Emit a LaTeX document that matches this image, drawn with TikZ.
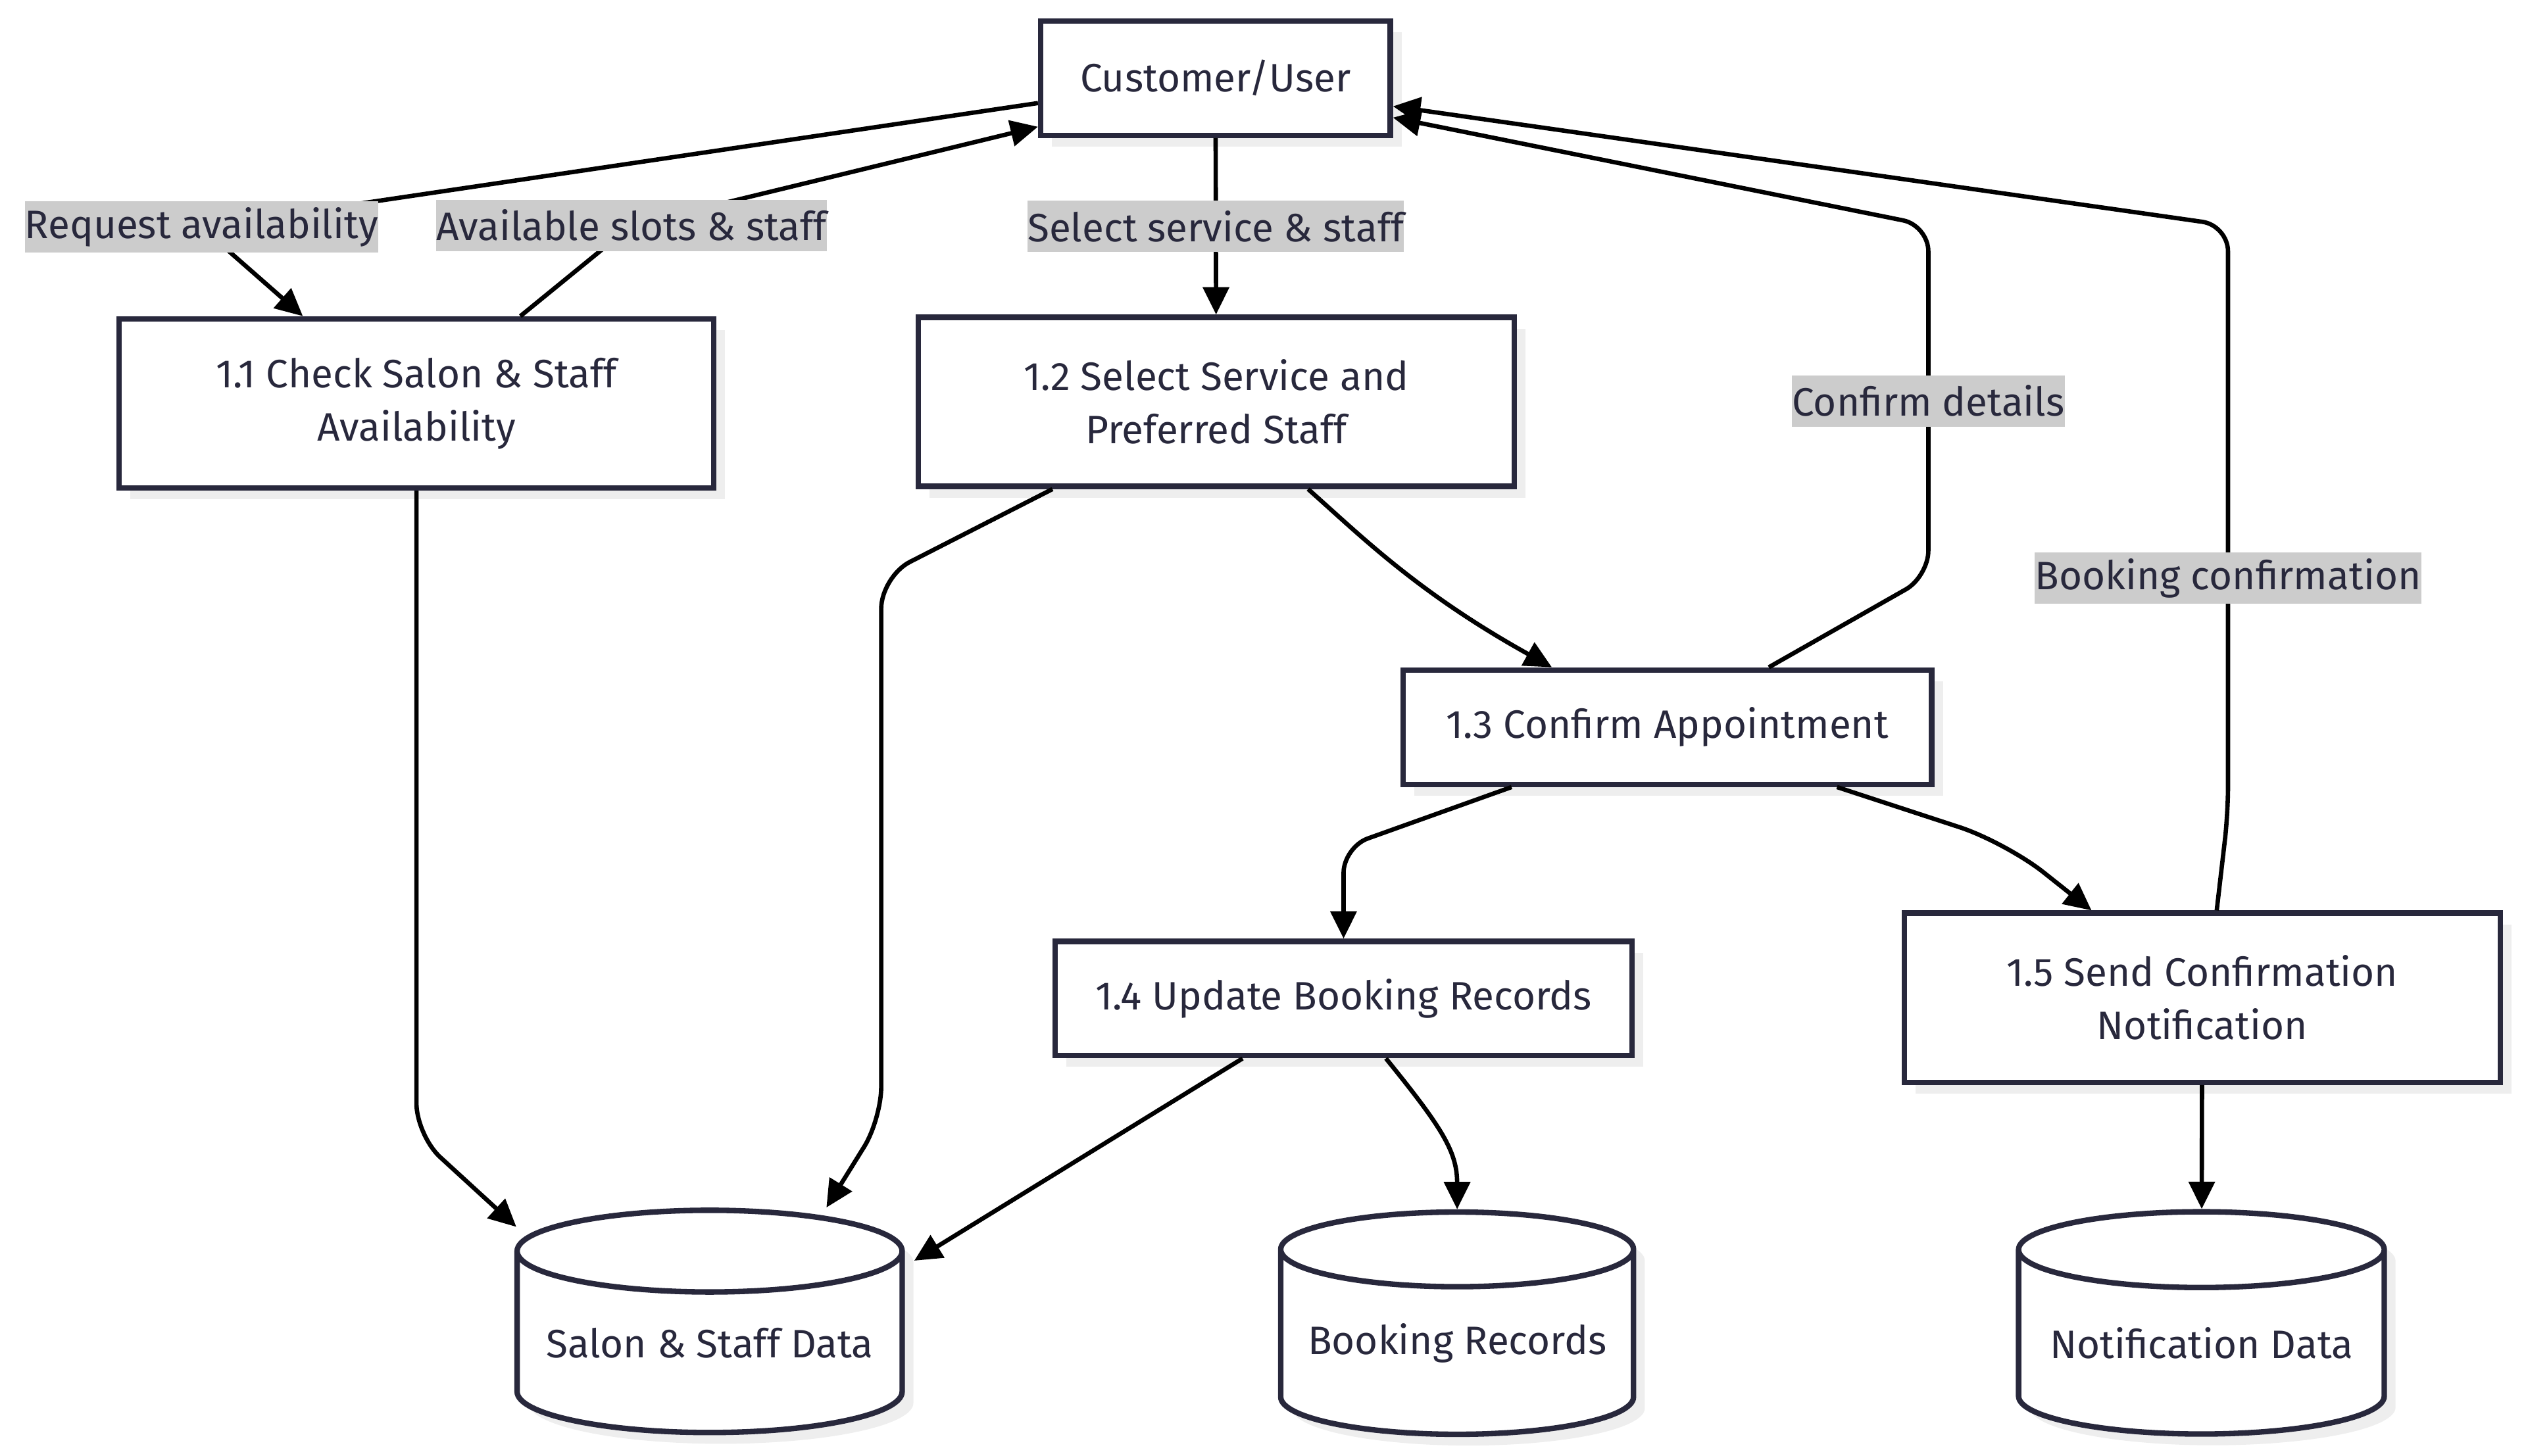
\documentclass[tikz,border=0pt]{standalone}
\usepackage{fontspec}
\setmainfont{Fira Sans}
\usepackage{tikz}
\usetikzlibrary{shapes.geometric,shadows,arrows.meta,calc}
\definecolor{ink}{RGB}{40,40,60}
\definecolor{tagbg}{RGB}{204,204,204}
\definecolor{shade}{RGB}{238,238,238}

\begin{document}
\begin{tikzpicture}[x=0.5pt, y=-0.5pt,
    font=\fontsize{12.3}{16.5}\selectfont,
    proc/.style={draw=ink, line width=1.7pt, fill=white, text=ink, align=center,
        inner sep=0pt, minimum height=35.5pt,
        drop shadow={shadow xshift=3.5pt, shadow yshift=-3.5pt, fill=shade, opacity=1}},
    tall/.style={minimum height=52.5pt},
    store/.style={cylinder, shape border rotate=90, aspect=0.25, draw=ink, line width=1.7pt,
        fill=white, text=ink, inner sep=0pt, minimum height=69pt,
        drop shadow={shadow xshift=3.5pt, shadow yshift=-3.5pt, fill=shade, opacity=1}},
    flow/.style={-{Triangle[length=8.5pt, width=8pt]}, line width=1.35pt, black},
    tag/.style={sharp corners, fill=tagbg, text=ink, inner xsep=0pt, inner ysep=0pt, minimum height=16pt}]

    \useasboundingbox (0,0) rectangle (1568,904);

    % Customer and processes
    \node[proc, minimum width=108.5pt] (cust) at (754.5,48.5) {Customer/User};
    \node[proc, tall, minimum width=184.5pt] (p11) at (258.5,250.5) {1.1 Check Salon \& Staff\\Availability};
    \node[proc, tall, minimum width=185pt] (p12) at (755,249.5) {1.2 Select Service and\\Preferred Staff};
    \node[proc, minimum width=164pt] (p13) at (1035,451.5) {1.3 Confirm Appointment};
    \node[proc, minimum width=179pt] (p14) at (834,620) {1.4 Update Booking Records};
    \node[proc, tall, minimum width=185pt] (p15) at (1367,619.5) {1.5 Send Confirmation\\Notification};

    % Data stores
    \node[store, minimum width=119.5pt] (dsSalon) at (440.5,834) {Salon \& Staff Data};
    \node[store, minimum width=109.5pt] (dsBook) at (904.5,834) {Booking Records};
    \node[store, minimum width=113.5pt] (dsNotif) at (1366.5,834) {Notification Data};

    % Customer side flows
    \draw[flow, rounded corners=6pt] ($(cust.west)+(0,15.5)$) -- (125,141)
        node[tag] (lReq) {Request availability} -- ($(p11.north)+(-70.5,0)$);
    \draw[flow, rounded corners=6pt] ($(p11.north)+(64.5,0)$) -- (392,140)
        node[tag] (lSlots) {Available slots \& staff} -- ($(cust.south west)+(0,-7)$);
    \draw[flow] (cust) -- node[tag] (lSel) {Select service \& staff} (p12);
    \draw[flow, rounded corners=8pt] ($(p13.north)+(63,0)$) -- (1197,358)
        -- node[tag] (lConf) {Confirm details} (1197,140) -- ($(cust.east)+(0,24.5)$);
    \draw[flow, rounded corners=8pt] ($(p15.north)+(9,0)$) -- (1383,505)
        -- node[tag, pos=0.4] (lBook) {Booking confirmation} (1383,140) -- ($(cust.east)+(0,17.5)$);

    % Process to process
    \draw[flow] ($(p12.south)+(57,0)$) .. controls (845,333) and (880,368) .. ($(p13.north west)+(94,0)$);
    \draw[flow, rounded corners=8pt] ($(p13.south west)+(69,0)$) -- (834,526) -- (p14.north);
    \draw[flow, rounded corners=15pt] ($(p13.south west)+(271,0)$) -- (1245,523) -- ($(p15.north west)+(118,0)$);

    % Into the data stores
    \draw[flow, rounded corners=10pt] (p11.south) -- (258.5,705) -- ($(dsSalon.north)+(-120,12)$);
    \draw[flow, rounded corners=10pt] ($(p12.south west)+(85,0)$) -- (547,358) -- (547,695)
        -- ($(dsSalon.north)+(72.5,0)$);
    \draw[flow] ($(p14.south west)+(118,0)$) -- ($(dsSalon.north)+(127,33)$);
    \draw[flow] ($(p14.south west)+(207,0)$) .. controls (895,700) and (904.5,715) .. (dsBook.north);
    \draw[flow] (p15) -- (dsNotif);
\end{tikzpicture}
\end{document}
